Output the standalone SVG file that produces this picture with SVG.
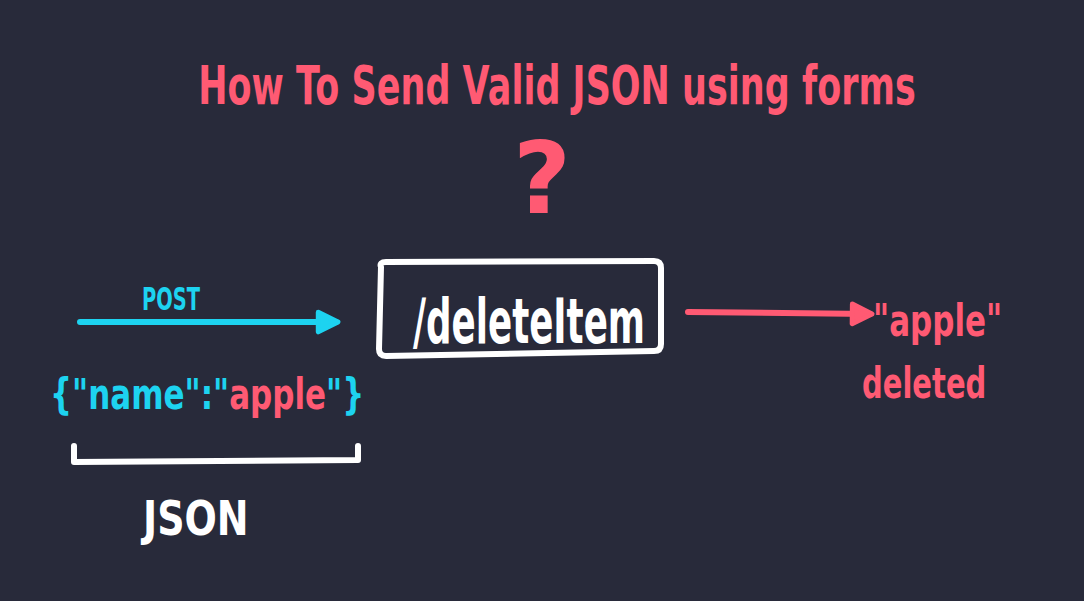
<svg xmlns="http://www.w3.org/2000/svg" width="1084" height="601" viewBox="0 0 1084 601">
<style>
text{font-family:"DejaVu Sans","Liberation Sans",sans-serif;font-weight:bold;}
.pink{fill:#ff5a73;}
.cyan{fill:#1dd3f0;}
.white{fill:#ffffff;}
.line{fill:none;stroke-linecap:round;stroke-linejoin:round;}
</style>
<defs>
<marker id="ahc" viewBox="-2 -2 14 14" refX="9" refY="5" markerWidth="4.6" markerHeight="4.6" orient="auto" markerUnits="strokeWidth">
<path d="M0,0 L10,5 L0,10 Z" fill="#1dd3f0" stroke="#1dd3f0" stroke-width="2.5" stroke-linejoin="round"/>
</marker>
<marker id="ahp" viewBox="-2 -2 14 14" refX="9" refY="5" markerWidth="4.6" markerHeight="4.6" orient="auto" markerUnits="strokeWidth">
<path d="M0,0 L10,5 L0,10 Z" fill="#ff5a73" stroke="#ff5a73" stroke-width="2.5" stroke-linejoin="round"/>
</marker>
</defs>
<rect width="1084" height="601" fill="#282a3a"/>
<g id="title">
<text transform="translate(557,104) scale(1,1.5)" font-size="35" class="pink" text-anchor="middle">How To Send Valid JSON using forms</text>
<text x="542" y="213" font-size="100" class="pink" text-anchor="middle">?</text>
</g>
<g id="json-payload">
<text transform="translate(50,409) scale(1,1.35)" font-size="31"><tspan class="cyan">{"name":"</tspan><tspan class="pink">apple</tspan><tspan class="cyan">"}</tspan></text>
<path class="line" d="M74,446 L74,462 L358,460 L358,446" stroke="#ffffff" stroke-width="6"/>
<text transform="translate(143,535) scale(1,1.25)" font-size="38" class="white">JSON</text>
</g>
<g id="deleteItem">
<path class="line" d="M381,267 Q379,262 386,262 L654,261 Q661,261 661,268 L661,344 Q661,351 654,351 L386,356 Q379,356 379,349 Z" stroke="#ffffff" stroke-width="6"/>
<text x="413" y="343" font-size="62" class="white" textLength="232" lengthAdjust="spacingAndGlyphs">/deleteItem</text>
</g>
<g id="result">
<text transform="translate(873,336) scale(1,1.45)" font-size="31" class="pink">"apple"</text>
<text transform="translate(862,398) scale(1,1.45)" font-size="29" class="pink">deleted</text>
</g>
<g id="connectors">
<path class="line" d="M80,322 L336,322" stroke="#1dd3f0" stroke-width="6" marker-end="url(#ahc)"/>
<text x="171" y="310" font-size="32" class="cyan" text-anchor="middle" textLength="58" lengthAdjust="spacingAndGlyphs">POST</text>
<path class="line" d="M688,312 L870,314" stroke="#ff5a73" stroke-width="6" marker-end="url(#ahp)"/>
</g>
</svg>
